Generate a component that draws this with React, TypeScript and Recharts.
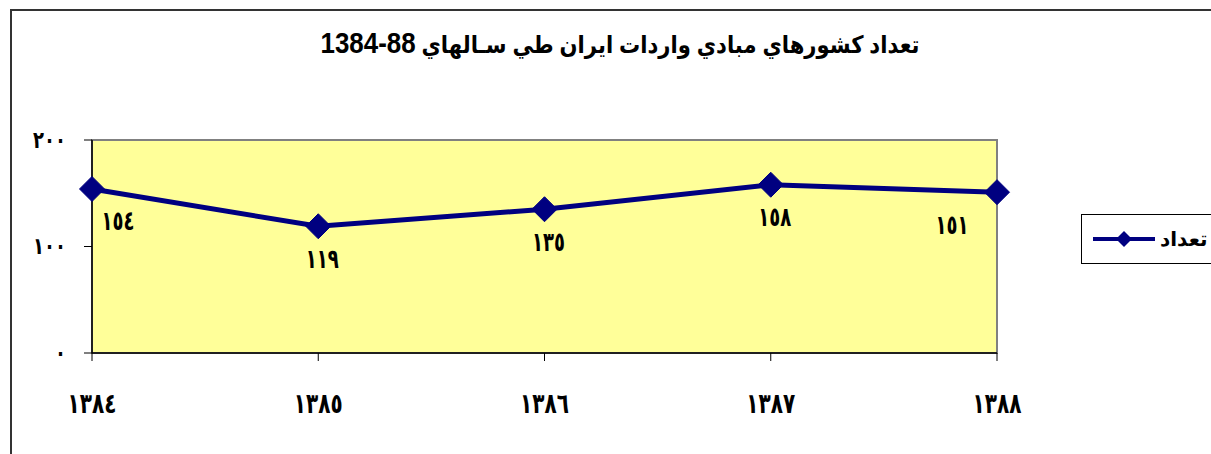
import React from 'react';
import { LineChart, Line, XAxis, YAxis, ReferenceArea, LabelList } from 'recharts';

const years = ['١٣٨٤', '١٣٨٥', '١٣٨٦', '١٣٨٧', '١٣٨٨'];
const counts = [154, 119, 135, 158, 151];
const countLabels = ['١٥٤', '١١٩', '١٣٥', '١٥٨', '١٥١'];
const yTicks = [0, 100, 200];
const yTickLabels: Record<number, string> = { 0: '٠', 100: '١٠٠', 200: '٢٠٠' };
const seriesName = 'تعداد';
const titleText = 'تعداد كشورهاي مبادي واردات ايران طي سـالهاي';
const titleYears = '1384-88';

const data = years.map((y, i) => ({ year: y, count: counts[i], label: countLabels[i] }));

const NAVY = '#000080';
const FONT = '"DejaVu Sans", "Liberation Sans", sans-serif';

const Diamond = (props: any) => {
  const { cx, cy } = props;
  if (cx == null || cy == null) return null;
  const r = 12.5;
  return <path d={`M${cx - r},${cy} L${cx},${cy - r} L${cx + r},${cy} L${cx},${cy + r} Z`} fill={NAVY} stroke={NAVY} />;
};

const StretchText = ({ x, y, sx, sy, size, anchor, children }: any) => (
  <g transform={`translate(${x},${y}) scale(${sx},${sy})`}>
    <text x={0} y={0} textAnchor={anchor} dominantBaseline="central" fontFamily={FONT} fontWeight="bold" fontSize={size} fill="#000">
      {children}
    </text>
  </g>
);

const DataLabel = (props: any) => {
  const { x, y, index, value } = props;
  let dx = 4;
  if (index === 0) dx = 26;
  if (index === years.length - 1) dx = -45;
  return <StretchText x={x + dx} y={y + 32} sx={1} sy={1.5} size={18} anchor="middle">{value}</StretchText>;
};

const XTick = (props: any) => {
  const { x, y, payload } = props;
  return <StretchText x={x} y={y + 40} sx={1} sy={1.4} size={20} anchor="middle">{payload.value}</StretchText>;
};

const YTick = (props: any) => {
  const { x, y, payload } = props;
  return <StretchText x={x - 16} y={y} sx={1} sy={1.3} size={18} anchor="end">{yTickLabels[payload.value] ?? payload.value}</StretchText>;
};

export default function App() {
  return (
    <div style={{ position: 'fixed', left: 0, top: 0, width: 1211, height: 454, background: '#fff', overflow: 'hidden' }}>
      <div style={{ position: 'absolute', left: 10, top: 9, width: 1240, height: 470, border: '2px solid #333' }} />
      <div style={{ position: 'absolute', left: 220, width: 800, top: 28, textAlign: 'center', fontFamily: '"Liberation Sans", Arial, "DejaVu Sans", sans-serif', fontWeight: 'bold', fontSize: 22, direction: 'rtl', color: '#000', whiteSpace: 'nowrap', transform: 'scale(0.96, 1.1)', transformOrigin: '50% 50%' }}>
        {titleText}{' '}
        <span style={{ direction: 'ltr', unicodeBidi: 'isolate', fontSize: 27 }}>{titleYears}</span>
      </div>
      <div style={{ position: 'absolute', left: 0, top: 0 }}>
        <LineChart width={1211} height={454} data={data} margin={{ top: 140, right: 214, left: 32, bottom: 61 }}>
          <ReferenceArea x1={years[0]} x2={years[years.length - 1]} y1={0} y2={200} fill="#FFFF99" fillOpacity={1} stroke="#808080" strokeWidth={2} ifOverflow="extendDomain" />
          <XAxis dataKey="year" height={40} axisLine={{ stroke: '#000', strokeWidth: 1.5 }} tickLine={{ stroke: '#000' }} tickSize={8} tick={<XTick />} interval={0} />
          <YAxis width={60} domain={[0, 200]} ticks={yTicks} axisLine={{ stroke: '#000', strokeWidth: 1.5 }} tickLine={{ stroke: '#000' }} tickSize={8} tick={<YTick />} />
          <Line type="linear" dataKey="count" name={seriesName} stroke={NAVY} strokeWidth={5} dot={<Diamond />} activeDot={false} isAnimationActive={false}>
            <LabelList dataKey="label" content={<DataLabel />} />
          </Line>
        </LineChart>
      </div>
      <div style={{ position: 'absolute', left: 1081, top: 214, width: 140, height: 50, border: '1px solid #000', boxSizing: 'border-box', display: 'flex', alignItems: 'center', background: '#fff' }}>
        <svg width={66} height={20} style={{ marginLeft: 9 }}>
          <line x1={2} y1={10} x2={64} y2={10} stroke={NAVY} strokeWidth={4} />
          <path d="M25,10 L33,2 L41,10 L33,18 Z" fill={NAVY} />
        </svg>
        <span style={{ fontFamily: '"Liberation Sans", Arial, "DejaVu Sans", sans-serif', fontWeight: 'bold', fontSize: 20, marginLeft: 3, direction: 'rtl' }}>{seriesName}</span>
      </div>
    </div>
  );
}
